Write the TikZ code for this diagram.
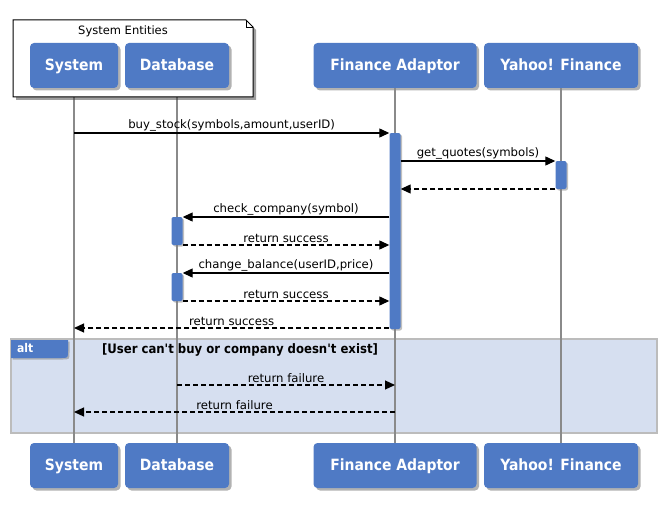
\documentclass[tikz,border=0pt]{standalone}
\usepackage{fontspec}
\newfontfamily\condfont{DejaVu Sans Condensed}
\newfontfamily\regfont{DejaVu Sans}
\usetikzlibrary{shadows,arrows.meta}
\definecolor{boxblue}{HTML}{4F7AC5}
\definecolor{altfill}{HTML}{D6DFF0}
\definecolor{altline}{HTML}{BCBCBC}
\definecolor{lifegray}{HTML}{8A8A8A}
\tikzset{
  partbox/.style={fill=boxblue, rounded corners=4pt, minimum height=45pt, text=white,
    font=\condfont\bfseries\fontsize{15.5}{18}\selectfont, inner sep=0pt,
    text height=12.5pt, text depth=2pt,
    drop shadow={shadow xshift=2.5pt, shadow yshift=-2.5pt, fill=black!60}},
  actbar/.style={fill=boxblue, rounded corners=2pt, minimum width=11pt, inner sep=0pt,
    drop shadow={shadow xshift=1.5pt, shadow yshift=-1.5pt, fill=black!50}},
  msg/.style={line width=1.2pt, -{Triangle[length=10pt,width=9pt]}},
  ret/.style={msg, dash pattern=on 5pt off 3pt},
  lbl/.style={font=\regfont\fontsize{11.7}{13}\selectfont, above, inner sep=1.5pt, midway},
  life/.style={draw=lifegray, line width=1.3pt},
}
\begin{document}
\begin{tikzpicture}[x=1pt,y=-1pt]
\useasboundingbox (0,0) rectangle (666,508);
% alt frame
\draw[fill=altfill, draw=altline, line width=2pt] (11,339) rectangle (657,433);
\fill[boxblue, drop shadow={shadow xshift=1.5pt, shadow yshift=-1.5pt, fill=black!50}]
  (11,340) -- (68,340) -- (68,351) .. controls (68,358) .. (61,358) -- (11,358) -- cycle;
\node[font=\condfont\bfseries\fontsize{12}{14}\selectfont, text=white, anchor=west, inner sep=0pt] (altlbl) at (17,348.5) {alt};
\node[font=\condfont\bfseries\fontsize{13}{15}\selectfont, inner sep=0pt] (guard) at (240,350) {[User can't buy or company doesn't exist]};
% participants
\node[partbox, minimum width=88pt] (sysT) at (74,65.5) {System};
\node[partbox, minimum width=104pt] (dbT) at (177,65.5) {Database};
\node[partbox, minimum width=163pt] (faT) at (395,65.5) {Finance Adaptor};
\node[partbox, minimum width=154pt] (yhT) at (561,65.5) {Yahoo! Finance};
\node[partbox, minimum width=88pt] (sysB) at (74,465.5) {System};
\node[partbox, minimum width=104pt] (dbB) at (177,465.5) {Database};
\node[partbox, minimum width=163pt] (faB) at (395,465.5) {Finance Adaptor};
\node[partbox, minimum width=154pt] (yhB) at (561,465.5) {Yahoo! Finance};
% lifelines
\draw[life] (sysT.south) -- (sysB.north);
\draw[life] (dbT.south) -- (dbB.north);
\draw[life] (faT.south) -- (faB.north);
\draw[life] (yhT.south) -- (yhB.north);
% group box
\filldraw[fill=white, draw=black, line width=1pt,
  drop shadow={shadow xshift=3pt, shadow yshift=-3pt, fill=black!75}]
  (13,20) -- (246,20) -- (253,27) -- (253,97) -- (13,97) -- cycle;
\draw[line width=0.8pt] (246,20) -- (246,27) -- (253,27);
\node[font=\regfont\fontsize{11.5}{13}\selectfont, inner sep=0pt] (grp) at (123,31) {System Entities};
% participant boxes over the group box
\node[partbox, minimum width=88pt] at (74,65.5) {System};
\node[partbox, minimum width=104pt] at (177,65.5) {Database};
% activations
\node[actbar, minimum height=196pt] (faact) at (395,231) {};
\node[actbar, minimum height=28pt] (yhact) at (561,175) {};
\node[actbar, minimum height=28pt] (dbact1) at (177,231) {};
\node[actbar, minimum height=28pt] (dbact2) at (177,287) {};
% messages
\draw[msg] (sysT.south |- 0,133) -- (faact.west |- 0,133) node[lbl] {buy\_stock(symbols,amount,userID)};
\draw[msg] (faact.east |- 0,161) -- (yhact.west |- 0,161) node[lbl] {get\_quotes(symbols)};
\draw[ret] (yhact.west |- 0,189) -- (faact.east |- 0,189);
\draw[msg] (faact.west |- 0,217) -- (dbact1.east |- 0,217) node[lbl] {check\_company(symbol)};
\draw[ret] (dbact1.east |- 0,245) -- (faact.west |- 0,245) node[lbl] {return success};
\draw[msg] (faact.west |- 0,273) -- (dbact2.east |- 0,273) node[lbl] {change\_balance(userID,price)};
\draw[ret] (dbact2.east |- 0,301) -- (faact.west |- 0,301) node[lbl] {return success};
\draw[ret] (faact.west |- 0,328) -- (sysT.south |- 0,328) node[lbl] {return success};
\draw[ret] (dbT.south |- 0,385) -- (faT.south |- 0,385) node[lbl] {return failure};
\draw[ret] (faT.south |- 0,412) -- (sysT.south |- 0,412) node[lbl] {return failure};
\end{tikzpicture}
\end{document}
